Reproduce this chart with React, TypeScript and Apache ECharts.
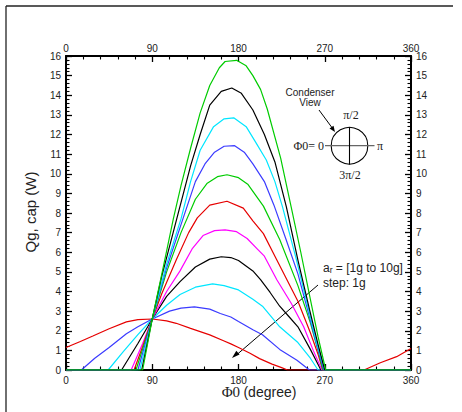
import React, { useEffect, useRef } from "react";
import * as echarts from "echarts";

type Pt = [number, number];

// Φ0 (degree) vs Qg,cap (W) for a_r = 1g ... (step 1g)
const ar1g: Pt[] = [[0,1.15],[15,1.45],[28,1.73],[45,2.1],[63,2.45],[75,2.57],[90,2.6],[105,2.5],[115,2.38],[130,2.12],[150,1.79],[165,1.48],[172,1.33],[180,1.15],[192,0.85],[202,0.58],[215,0.3],[225,0.12],[231,0],[311,0],[328,0.37],[345,0.68],[360,1.1]];
const ar2g: Pt[] = [[0,0],[16,0],[30,0.6],[45,1.15],[63,1.85],[75,2.2],[90,2.6],[108,3.0],[120,3.15],[134,3.22],[150,3.1],[161,2.88],[172,2.7],[180,2.47],[195,2.05],[205,1.8],[223,1.05],[241,0.5],[254,0],[360,0]];
const ar3g: Pt[] = [[0,0],[44,0],[60,0.95],[75,1.8],[90,2.6],[105,3.3],[119,3.85],[135,4.22],[153,4.39],[165,4.3],[172,4.2],[180,4.08],[195,3.6],[205,3.25],[223,2.2],[242,1.4],[255,0.6],[263,0],[360,0]];
const ar4g: Pt[] = [[0,0],[58,0],[75,1.35],[90,2.6],[105,3.75],[119,4.5],[135,5.25],[150,5.65],[162,5.77],[172,5.73],[180,5.58],[195,5.05],[203,4.6],[213,3.95],[223,3.25],[233,2.7],[242,2.2],[255,1.05],[266,0],[360,0]];
const ar5g: Pt[] = [[0,0],[68,0],[80,1.35],[90,2.6],[105,4.0],[119,5.05],[132,6.2],[143,6.85],[155,7.1],[166,7.14],[178,7.05],[189,6.7],[200,6.15],[207,5.8],[220,4.6],[235,3.4],[248,2.2],[258,1.0],[267,0],[360,0]];
const ar6g: Pt[] = [[0,0],[71,0],[80,1.2],[90,2.6],[100,3.9],[115,5.6],[128,7.0],[137,7.75],[150,8.4],[168,8.6],[185,8.25],[195,7.6],[206,6.95],[220,5.6],[242,3.5],[255,1.9],[263,0.8],[268,0],[360,0]];
const ar7g: Pt[] = [[0,0],[73,0],[90,2.6],[105,5.0],[120,7.0],[135,8.7],[147,9.5],[158,9.85],[168,9.95],[180,9.8],[190,9.45],[206,8.35],[223,6.65],[242,4.3],[255,2.4],[263,1.0],[268,0],[360,0]];
const ar8g: Pt[] = [[0,0],[75,0],[90,2.6],[105,5.2],[122,7.7],[135,9.6],[145,10.5],[155,11.1],[165,11.4],[176,11.43],[186,11.1],[195,10.5],[207,9.6],[217,8.4],[230,6.6],[242,4.9],[253,2.9],[262,1.2],[269,0],[360,0]];
const ar9g: Pt[] = [[0,0],[77,0],[90,2.6],[105,5.4],[120,7.7],[130,9.6],[140,11.2],[154,12.4],[165,12.8],[175,12.85],[188,12.4],[198,11.6],[209,10.7],[218,9.6],[226,8.3],[240,5.7],[252,3.3],[262,1.3],[270,0],[360,0]];
const ar10g: Pt[] = [[0,0],[79,0],[90,2.6],[100,4.8],[115,7.6],[130,10.4],[140,12.0],[150,13.5],[162,14.2],[173,14.37],[183,14.1],[195,13.25],[207,12.0],[218,10.6],[230,8.3],[242,5.6],[254,3.1],[263,1.3],[270,0],[360,0]];
const ar11g: Pt[] = [[0,0],[80,0],[90,2.6],[100,4.9],[112,7.7],[120,9.4],[130,11.3],[140,13.1],[150,14.5],[160,15.4],[166,15.72],[178,15.78],[188,15.5],[195,15.0],[203,14.3],[210,13.3],[224,10.8],[235,8.3],[245,6.0],[255,3.6],[263,1.7],[271,0],[360,0]];

const seriesNames = ["1g","2g","3g","4g","5g","6g","7g","8g","9g","10g","11g"];
const seriesData = [ar1g, ar2g, ar3g, ar4g, ar5g, ar6g, ar7g, ar8g, ar9g, ar10g, ar11g];
const seriesColors = ["#e60000","#3b3bff","#00e6ff","#000000","#ff00ff","#e60000","#00cc00","#3b3bff","#00e6ff","#000000","#00cc00"];

const X_MIN = 0, X_MAX = 360, X_STEP = 90;
const Y_MIN = 0, Y_MAX = 16, Y_STEP = 1;

const SANS = "'Liberation Sans', Arial, sans-serif";
const SERIF = "'Liberation Serif', 'Times New Roman', serif";

export default function App() {
  const ref = useRef<HTMLDivElement>(null);
  useEffect(() => {
    if (!ref.current) return;
    const chart = echarts.init(ref.current, null, { renderer: "svg" });

    const axisLine = { show: true, onZero: false, lineStyle: { color: "#000", width: 2 } };
    const axisTick = { show: true, inside: true, length: 6, lineStyle: { color: "#000", width: 1.3 } };
    const minorTick = { show: true, splitNumber: 5, length: 3.5, lineStyle: { color: "#000", width: 1.1 } };
    const lbl = { color: "#222", fontSize: 10, fontFamily: SANS };

    const xAx = (pos: string) => ({
      type: "value", position: pos, min: X_MIN, max: X_MAX, interval: X_STEP,
      axisLine, axisTick, minorTick,
      splitLine: { show: false }, minorSplitLine: { show: false },
      axisLabel: { ...lbl, margin: pos === "top" ? 3 : 5 },
    });
    const yAx = (pos: string) => ({
      type: "value", position: pos, min: Y_MIN, max: Y_MAX, interval: Y_STEP,
      axisLine, axisTick, minorTick,
      splitLine: { show: false }, minorSplitLine: { show: false },
      axisLabel: { ...lbl, margin: 5 },
    });

    const txt = (x: number, y: number, text: string, extra: any = {}, rot = 0) => ({
      type: "text", x, y, rotation: rot, silent: true,
      style: { text, fill: "#222", fontSize: 11, fontFamily: SANS, align: "center", textAlign: "center", verticalAlign: "middle", textVerticalAlign: "middle", ...extra },
    });

    const option: any = {
      animation: false,
      backgroundColor: "#fff",
      grid: { left: 66, right: 51, top: 56, bottom: 42, containLabel: false },
      xAxis: [xAx("bottom"), xAx("top")],
      yAxis: [yAx("left"), yAx("right")],
      series: seriesData.map((d, i) => ({
        name: seriesNames[i], type: "line", data: d, xAxisIndex: 0, yAxisIndex: 0,
        symbol: "none", showSymbol: false, smooth: false, clip: true,
        lineStyle: { color: seriesColors[i], width: 1.2 }, itemStyle: { color: seriesColors[i] },
      })),
      graphic: [
        // outer frame (top & left)
        { type: "line", shape: { x1: 6, y1: 6, x2: 453, y2: 6 }, style: { stroke: "#222", lineWidth: 1.3 } },
        { type: "line", shape: { x1: 6, y1: 6, x2: 6, y2: 412 }, style: { stroke: "#222", lineWidth: 1.3 } },
        // axis names
        txt(30, 212, "Qg, cap (W)", { fontSize: 15 }, Math.PI / 2),
        {
          type: "text", x: 259, y: 392, silent: true,
          style: {
            text: "{p|Φ0} {d|(degree)}", align: "center", textAlign: "center", verticalAlign: "middle", textVerticalAlign: "middle", fill: "#222",
            rich: { p: { fontFamily: SERIF, fontSize: 15, fill: "#222" }, d: { fontFamily: SANS, fontSize: 14, fill: "#222" } },
          },
        },
        // condenser view inset
        txt(310, 92, "Condenser", { fontSize: 10 }),
        txt(310, 102, "View", { fontSize: 10 }),
        { type: "line", shape: { x1: 319, y1: 110, x2: 333, y2: 129 }, style: { stroke: "#000", lineWidth: 1 } },
        { type: "polygon", shape: { points: [[335, 132], [329.5, 128.6], [333.5, 125.7]] }, style: { fill: "#000" } },
        { type: "circle", shape: { cx: 349.5, cy: 145.7, r: 18.3 }, style: { fill: "none", stroke: "#000", lineWidth: 1.1 } },
        { type: "line", shape: { x1: 325, y1: 145.7, x2: 374.5, y2: 145.7 }, style: { stroke: "#666", lineWidth: 1.3 } },
        { type: "line", shape: { x1: 349.5, y1: 127, x2: 349.5, y2: 164.5 }, style: { stroke: "#000", lineWidth: 1.1 } },
        txt(351, 115, "π/2", { fontSize: 12, fontFamily: SERIF }),
        txt(350, 175, "3π/2", { fontSize: 12, fontFamily: SERIF }),
        txt(324, 146, "Φ0= 0", { fontSize: 12, fontFamily: SERIF, align: "right", textAlign: "right" }),
        txt(377, 146, "π", { fontSize: 12, fontFamily: SERIF, align: "left", textAlign: "left" }),
        // a_r annotation (single rich text with subscript)
        {
          type: "text", x: 323, y: 268, silent: true,
          style: {
            text: "{a|a}{r|r}{a| = [1g to 10g]}", align: "left", textAlign: "left", verticalAlign: "middle", textVerticalAlign: "middle", fill: "#222",
            rich: {
              a: { fontFamily: SANS, fontSize: 12, fill: "#222" },
              r: { fontFamily: SANS, fontSize: 8.5, fill: "#222", padding: [4, 0, 0, 0] },
            },
          },
        },
        txt(323, 283, "step: 1g", { fontSize: 12, align: "left", textAlign: "left" }),
        { type: "line", shape: { x1: 318, y1: 285, x2: 237, y2: 354.5 }, style: { stroke: "#000", lineWidth: 1 } },
        { type: "polygon", shape: { points: [[232, 358], [239.6, 354.6], [236.3, 350.8]] }, style: { fill: "#000" } },
      ],
    };
    chart.setOption(option);
    return () => chart.dispose();
  }, []);
  return <div ref={ref} style={{ position: "fixed", left: 0, top: 0, width: 462, height: 412, background: "#fff" }} />;
}
